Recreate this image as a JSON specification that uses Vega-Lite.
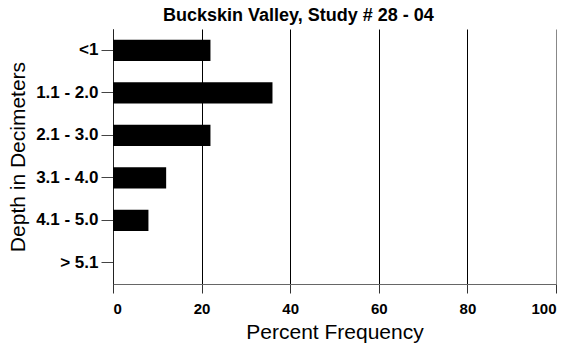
{
  "$schema": "https://vega.github.io/schema/vega-lite/v6.json",
  "width": 443,
  "height": 255,
  "autosize": {"type": "none"},
  "padding": {"left": 113, "top": 29, "right": 15, "bottom": 64},
  "background": "white",
  "config": {
    "view": {"stroke": null},
    "font": "Liberation Sans"
  },
  "title": {
    "text": "Buckskin Valley, Study # 28 - 04",
    "anchor": "start",
    "frame": "group",
    "dx": 50,
    "offset": 4,
    "fontSize": 18,
    "fontWeight": "bold",
    "font": "Liberation Sans",
    "color": "black"
  },
  "data": {
    "values": [
      {"depth": "<1", "pct": 22},
      {"depth": "1.1 - 2.0", "pct": 36},
      {"depth": "2.1 - 3.0", "pct": 22},
      {"depth": "3.1 - 4.0", "pct": 12},
      {"depth": "4.1 - 5.0", "pct": 8},
      {"depth": "> 5.1", "pct": 0}
    ]
  },
  "mark": {"type": "bar", "color": "black"},
  "encoding": {
    "y": {
      "field": "depth",
      "type": "nominal",
      "sort": null,
      "scale": {"paddingInner": 0.5, "paddingOuter": 0.25},
      "axis": {
        "title": "Depth in Decimeters",
        "titleFontSize": 21,
        "titleFontWeight": "normal",
        "titleColor": "black",
        "titlePadding": 7,
        "labelFontSize": 17,
        "labelFontWeight": "bold",
        "labelColor": "black",
        "labelPadding": 3,
        "tickSize": 12,
        "tickColor": "#444",
        "domainColor": "#222",
        "grid": false
      }
    },
    "x": {
      "field": "pct",
      "type": "quantitative",
      "scale": {"domain": [0, 100], "nice": false},
      "axis": {
        "title": "Percent Frequency",
        "values": [0, 20, 40, 60, 80, 100],
        "titleFontSize": 21,
        "titleFontWeight": "normal",
        "titleColor": "black",
        "titlePadding": 5,
        "labelFontSize": 15,
        "labelFontWeight": "bold",
        "labelColor": "black",
        "labelPadding": 8,
        "tickSize": 9,
        "tickColor": "#333",
        "domainColor": "#666",
        "grid": true,
        "gridOpacity": 1,
        "gridColor": {"condition": {"test": "datum.value === 100", "value": "#888"}, "value": "black"}
      }
    }
  }
}
